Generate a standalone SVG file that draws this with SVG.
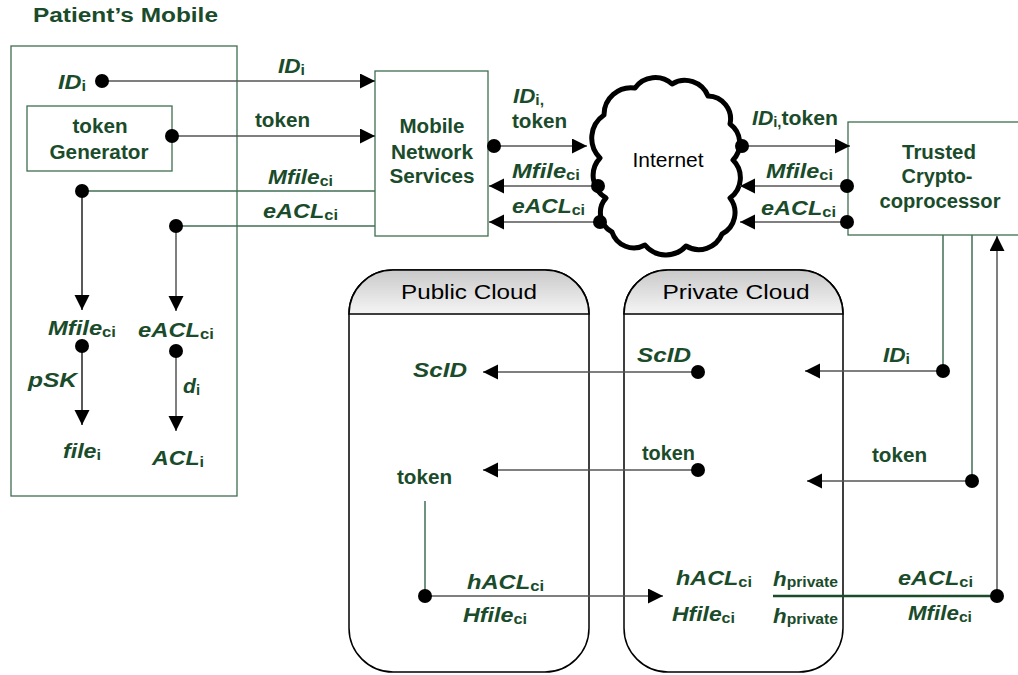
<svg xmlns="http://www.w3.org/2000/svg" width="1018" height="675" viewBox="0 0 1018 675">
<style>
  text { font-family: "Liberation Sans", Arial, sans-serif; }
  .g { fill: #1a4b2a; font-weight: bold; font-size: 20px; }
  .i { font-style: italic; }
  .sub { font-size: 14px; font-style: normal; }
  .blk { fill: #000; font-size: 20px; }
  .box { fill: none; stroke: #3f6f4f; stroke-width: 1.3; }
  .cbox { fill: #fff; stroke: #000; stroke-width: 1.5; }
  .ln { fill: none; stroke: #555; stroke-width: 1.5; }
  .gl { fill: none; stroke: #3f6f55; stroke-width: 1.5; }
  .bl { fill: none; stroke: #222; stroke-width: 1.5; }
  .arr { marker-end: url(#ah); }
  .dot { fill: #000; }
</style>
<defs>
  <marker id="ah" markerUnits="userSpaceOnUse" markerWidth="16" markerHeight="16" refX="15" refY="7.5" orient="auto">
    <path d="M0,0 L15,7.5 L0,15 Z" fill="#000"/>
  </marker>
  <linearGradient id="hdr" x1="0" y1="0" x2="0" y2="1">
    <stop offset="0" stop-color="#c9c9c9"/>
    <stop offset="1" stop-color="#f5f5f5"/>
  </linearGradient>
</defs>
<rect width="1018" height="675" fill="#fff"/>

<text class="g" x="33" y="22" font-size="22" textLength="185" lengthAdjust="spacingAndGlyphs">Patient’s Mobile</text>

<g id="patient-mobile">
  <rect class="box" x="11" y="46" width="226" height="450" stroke="#2f5f3f"/>
</g>
<g id="token-generator">
  <rect class="box" x="27" y="106" width="145" height="65"/>
  <text class="g" x="100" y="133" text-anchor="middle" textLength="55" lengthAdjust="spacingAndGlyphs">token</text>
  <text class="g" x="99" y="159" text-anchor="middle" textLength="99" lengthAdjust="spacingAndGlyphs">Generator</text>
</g>
<g id="mobile-network-services">
  <rect class="box" x="375" y="71" width="113" height="165" stroke="#5f8f6f"/>
  <text class="g" x="432" y="133" text-anchor="middle" textLength="65" lengthAdjust="spacingAndGlyphs">Mobile</text>
  <text class="g" x="432" y="159" text-anchor="middle" textLength="82" lengthAdjust="spacingAndGlyphs">Network</text>
  <text class="g" x="432" y="183" text-anchor="middle" textLength="85" lengthAdjust="spacingAndGlyphs">Services</text>
</g>
<g id="internet">
  <path d="M604,115 A27,27 0 0 1 635,88 A25,25 0 0 1 672,84 A25,25 0 0 1 708,96 A23,23 0 0 1 730,124 A24,24 0 0 1 733,160 A25,25 0 0 1 730,198 A24,24 0 0 1 722,234 A25,25 0 0 1 686,246 A27,27 0 0 1 645,245 A23,23 0 0 1 612,232 A22,22 0 0 1 606,198 A26,26 0 0 1 600,158 A28,28 0 0 1 604,115 Z" fill="#fff" stroke="#000" stroke-width="5" stroke-linejoin="round"/>
  <text class="blk" x="668" y="167" text-anchor="middle" textLength="71" lengthAdjust="spacingAndGlyphs">Internet</text>
</g>
<g id="trusted-cryptocoprocessor">
  <rect class="box" x="848" y="122" width="190" height="113"/>
  <text class="g" x="939" y="159" text-anchor="middle" textLength="74" lengthAdjust="spacingAndGlyphs">Trusted</text>
  <text class="g" x="937" y="183" text-anchor="middle" textLength="71" lengthAdjust="spacingAndGlyphs">Crypto-</text>
  <text class="g" x="940" y="208" text-anchor="middle" textLength="121" lengthAdjust="spacingAndGlyphs">coprocessor</text>
</g>
<g id="public-cloud">
  <path class="cbox" d="M349,314 A44,44 0 0 1 393,270 H545 A44,44 0 0 1 589,314 V628 A44,44 0 0 1 545,672 H393 A44,44 0 0 1 349,628 Z"/>
  <path d="M349,314 A44,44 0 0 1 393,270 H545 A44,44 0 0 1 589,314 Z" fill="url(#hdr)" stroke="#000" stroke-width="1.5"/>
  <text class="blk" x="469" y="299" text-anchor="middle" textLength="136" lengthAdjust="spacingAndGlyphs">Public Cloud</text>
</g>
<g id="private-cloud">
  <path class="cbox" d="M624,314 A44,44 0 0 1 668,270 H799 A44,44 0 0 1 843,314 V628 A44,44 0 0 1 799,672 H668 A44,44 0 0 1 624,628 Z"/>
  <path d="M624,314 A44,44 0 0 1 668,270 H799 A44,44 0 0 1 843,314 Z" fill="url(#hdr)" stroke="#000" stroke-width="1.5"/>
  <text class="blk" x="736" y="299" text-anchor="middle" textLength="147" lengthAdjust="spacingAndGlyphs">Private Cloud</text>
</g>

<g id="connectors">
  <path class="ln arr" d="M102,81 H375"/>
  <path class="ln arr" d="M172,136 H375"/>
  <path class="gl" d="M82,191 H375"/>
  <path class="gl" d="M176,226 H375"/>
  <path class="bl arr" d="M82,191 V310"/>
  <path class="ln arr" d="M176,226 V311"/>
  <path class="bl arr" d="M82,346 V425"/>
  <path class="ln arr" d="M176,351 V431"/>
  <path class="ln arr" d="M494,146 H587"/>
  <path class="ln arr" d="M598,186 H489"/>
  <path class="ln arr" d="M600,222 H489"/>
  <path class="ln arr" d="M742,146 H850"/>
  <path class="ln arr" d="M847,186 H740"/>
  <path class="ln arr" d="M847,222 H740"/>
  <path class="gl" d="M943,235 V371"/>
  <path class="gl" d="M972,235 V481"/>
  <path class="ln arr" d="M997,596 V236"/>
  <path class="ln arr" d="M943,371 H805"/>
  <path class="ln arr" d="M972,481 H807"/>
  <path class="ln arr" d="M698,372 H483"/>
  <path class="ln arr" d="M698,470 H483"/>
  <path class="gl" d="M425,501 V596" stroke-width="1.2"/>
  <path class="ln arr" d="M425,596 H663"/>
  <path d="M773,596 H997" fill="none" stroke="#1a4b2a" stroke-width="2.5"/>
  <g class="dot">
    <circle cx="102" cy="81" r="7"/>
    <circle cx="172" cy="136" r="7"/>
    <circle cx="82" cy="191" r="7"/>
    <circle cx="176" cy="226" r="7"/>
    <circle cx="82" cy="346" r="7"/>
    <circle cx="176" cy="351" r="7"/>
    <circle cx="494" cy="146" r="7"/>
    <circle cx="598" cy="186" r="7"/>
    <circle cx="600" cy="222" r="7"/>
    <circle cx="742" cy="146" r="7"/>
    <circle cx="847" cy="186" r="7"/>
    <circle cx="847" cy="222" r="7"/>
    <circle cx="943" cy="371" r="7"/>
    <circle cx="972" cy="481" r="7"/>
    <circle cx="698" cy="372" r="7"/>
    <circle cx="698" cy="470" r="7"/>
    <circle cx="425" cy="596" r="7"/>
    <circle cx="997" cy="596" r="7"/>
  </g>
</g>

<g id="labels">
  <text class="g i" x="58" y="89" textLength="28" lengthAdjust="spacingAndGlyphs">ID<tspan class="sub" dy="2">i</tspan></text>
  <text class="g i" x="278" y="73" textLength="27" lengthAdjust="spacingAndGlyphs">ID<tspan class="sub" dy="2">i</tspan></text>
  <text class="g" x="255" y="127" textLength="55" lengthAdjust="spacingAndGlyphs">token</text>
  <text class="g i" x="268" y="184" textLength="65" lengthAdjust="spacingAndGlyphs">Mfile<tspan class="sub" dy="2">ci</tspan></text>
  <text class="g i" x="263" y="218" textLength="75" lengthAdjust="spacingAndGlyphs">eACL<tspan class="sub" dy="2">ci</tspan></text>
  <text class="g i" x="48" y="335" textLength="68" lengthAdjust="spacingAndGlyphs">Mfile<tspan class="sub" dy="2">ci</tspan></text>
  <text class="g i" x="138" y="337" textLength="76" lengthAdjust="spacingAndGlyphs">eACL<tspan class="sub" dy="2">ci</tspan></text>
  <text class="g i" x="28" y="387" textLength="49" lengthAdjust="spacingAndGlyphs">pSK</text>
  <text class="g i" x="183" y="393" textLength="17" lengthAdjust="spacingAndGlyphs">d<tspan class="sub" dy="2">i</tspan></text>
  <text class="g i" x="63" y="458" textLength="38" lengthAdjust="spacingAndGlyphs">file<tspan class="sub" dy="2">i</tspan></text>
  <text class="g i" x="152" y="465" textLength="52" lengthAdjust="spacingAndGlyphs">ACL<tspan class="sub" dy="2">i</tspan></text>
  <text class="g i" x="513" y="103" textLength="31" lengthAdjust="spacingAndGlyphs">ID<tspan class="sub" dy="2">i,</tspan></text>
  <text class="g" x="512" y="128" textLength="55" lengthAdjust="spacingAndGlyphs">token</text>
  <text class="g i" x="512" y="178" textLength="68" lengthAdjust="spacingAndGlyphs">Mfile<tspan class="sub" dy="2">ci</tspan></text>
  <text class="g i" x="512" y="213" textLength="73" lengthAdjust="spacingAndGlyphs">eACL<tspan class="sub" dy="2">ci</tspan></text>
  <text class="g i" x="752" y="125" textLength="86" lengthAdjust="spacingAndGlyphs">ID<tspan class="sub" dy="2">i,</tspan><tspan dy="-2" font-style="normal">token</tspan></text>
  <text class="g i" x="766" y="178" textLength="67" lengthAdjust="spacingAndGlyphs">Mfile<tspan class="sub" dy="2">ci</tspan></text>
  <text class="g i" x="761" y="215" textLength="75" lengthAdjust="spacingAndGlyphs">eACL<tspan class="sub" dy="2">ci</tspan></text>
  <text class="g i" x="413" y="377" textLength="54" lengthAdjust="spacingAndGlyphs">ScID</text>
  <text class="g i" x="637" y="362" textLength="54" lengthAdjust="spacingAndGlyphs">ScID</text>
  <text class="g i" x="883" y="362" textLength="27" lengthAdjust="spacingAndGlyphs">ID<tspan class="sub" dy="2">i</tspan></text>
  <text class="g" x="397" y="484" textLength="55" lengthAdjust="spacingAndGlyphs">token</text>
  <text class="g" x="642" y="460" textLength="53" lengthAdjust="spacingAndGlyphs">token</text>
  <text class="g" x="872" y="462" textLength="55" lengthAdjust="spacingAndGlyphs">token</text>
  <text class="g i" x="467" y="589" textLength="77" lengthAdjust="spacingAndGlyphs">hACL<tspan class="sub" dy="2">ci</tspan></text>
  <text class="g i" x="463" y="622" textLength="64" lengthAdjust="spacingAndGlyphs">Hfile<tspan class="sub" dy="2">ci</tspan></text>
  <text class="g i" x="676" y="585" textLength="76" lengthAdjust="spacingAndGlyphs">hACL<tspan class="sub" dy="2">ci</tspan></text>
  <text class="g i" x="672" y="621" textLength="63" lengthAdjust="spacingAndGlyphs">Hfile<tspan class="sub" dy="2">ci</tspan></text>
  <text class="g i" x="773" y="586" textLength="65" lengthAdjust="spacingAndGlyphs">h<tspan class="sub" font-size="15" dy="1">private</tspan></text>
  <text class="g i" x="773" y="623" textLength="65" lengthAdjust="spacingAndGlyphs">h<tspan class="sub" font-size="15" dy="1">private</tspan></text>
  <text class="g i" x="898" y="585" textLength="75" lengthAdjust="spacingAndGlyphs">eACL<tspan class="sub" dy="2">ci</tspan></text>
  <text class="g i" x="908" y="620" textLength="64" lengthAdjust="spacingAndGlyphs">Mfile<tspan class="sub" dy="2">ci</tspan></text>
</g>
</svg>
